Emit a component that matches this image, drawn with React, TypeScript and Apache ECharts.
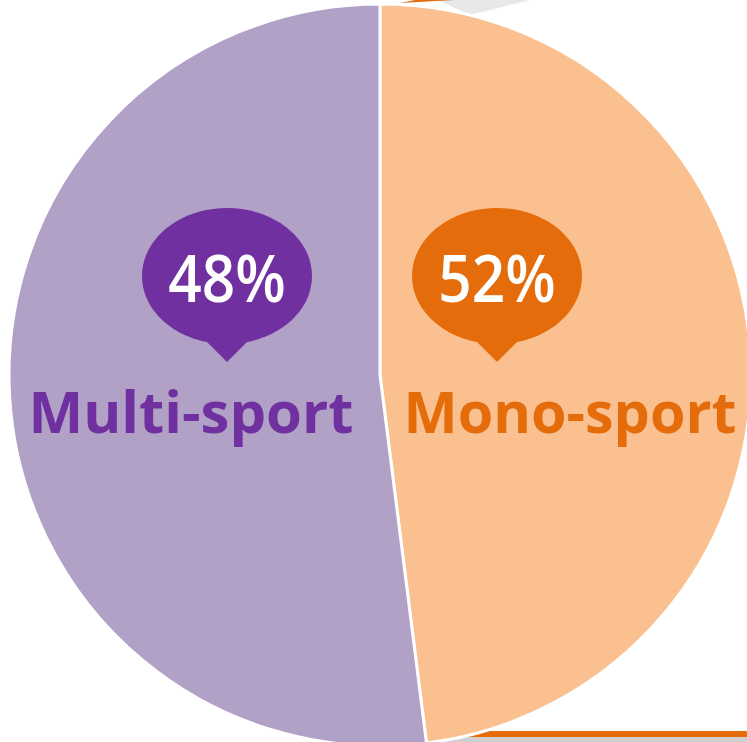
import React, { useEffect, useRef } from "react";
import * as echarts from "echarts";

const categories = ["Mono-sport", "Multi-sport"];
const sliceValues = [48, 52];
// Callout texts as printed in the picture
const calloutTexts = ["52%", "48%"];

const sliceColors = ["#FAC090", "#B1A1C7"];
const accentColors = ["#E46C0A", "#7030A0"];

const FONT = "'Open Sans', 'Noto Sans', sans-serif";

function callout(cx: number, cy: number, color: string, text: string) {
  return [
    {
      type: "ellipse",
      z: 10,
      shape: { cx, cy, rx: 85, ry: 68 },
      style: { fill: color },
    },
    {
      type: "polygon",
      z: 10,
      shape: {
        points: [
          [cx - 26, cy + 60],
          [cx + 26, cy + 60],
          [cx, cy + 86],
        ],
      },
      style: { fill: color },
    },
    {
      type: "text",
      z: 11,
      x: cx,
      y: cy + 1,
      scaleX: 0.9,
      style: {
        text,
        fill: "#FFFFFF",
        font: `600 65px ${FONT}`,
        align: "center",
        verticalAlign: "middle",
      },
    },
  ];
}

function label(x: number, y: number, color: string, text: string, sx: number) {
  return {
    type: "text",
    z: 10,
    x,
    y,
    scaleX: sx,
    style: {
      text,
      fill: color,
      font: `bold 58px ${FONT}`,
      align: "center",
      verticalAlign: "middle",
    },
  };
}

export default function App() {
  const ref = useRef<HTMLDivElement>(null);
  useEffect(() => {
    if (!ref.current) return;
    const chart = echarts.init(ref.current, null, { renderer: "svg" });
    chart.setOption({
      animation: false,
      backgroundColor: "#FFFFFF",
      graphic: [
        // decorative frame edges behind the pie
        {
          type: "polygon",
          z: 0,
          shape: { points: [[438, 0], [530, 0], [470, 15]] },
          style: { fill: "#D9D9D9", opacity: 0.6 },
        },
        {
          type: "polygon",
          z: 0,
          shape: { points: [[400, 3], [455, 0], [415, 0]] },
          style: { fill: "#E46C0A" },
        },
        {
          type: "rect",
          z: 0,
          shape: { x: 440, y: 737, width: 307, height: 5 },
          style: { fill: "#CFCFCF" },
        },
        {
          type: "rect",
          z: 0,
          shape: { x: 440, y: 731, width: 307, height: 6 },
          style: { fill: "#E46C0A" },
        },
        // callouts and labels on top
        ...callout(497, 276, accentColors[0], calloutTexts[0]),
        ...callout(227, 276, accentColors[1], calloutTexts[1]),
        label(570, 410, accentColors[0], categories[0], 0.99),
        label(191, 410, accentColors[1], categories[1], 1.0),
      ],
      series: [
        {
          type: "pie",
          z: 2,
          center: [380, 375],
          radius: 371,
          startAngle: 90,
          clockwise: true,
          label: { show: false },
          labelLine: { show: false },
          emphasis: { disabled: true },
          itemStyle: { borderColor: "#FFFFFF", borderWidth: 3 },
          data: categories.map((name, i) => ({
            name,
            value: sliceValues[i],
            itemStyle: { color: sliceColors[i] },
          })),
        },
      ],
    });
    return () => chart.dispose();
  }, []);
  return (
    <div
      ref={ref}
      style={{ position: "absolute", left: 0, top: 0, width: 747, height: 742 }}
    />
  );
}
